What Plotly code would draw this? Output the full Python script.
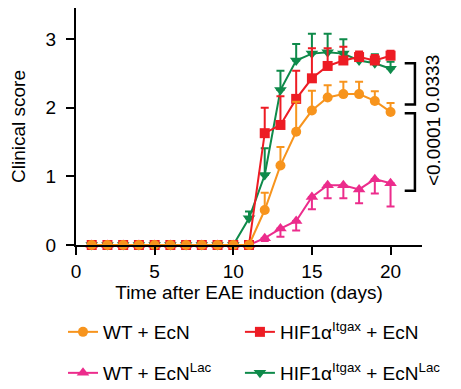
import plotly.graph_objects as go

days = list(range(1, 21))

wt_ecn = [0]*11 + [0.51, 1.16, 1.65, 1.96, 2.15, 2.20, 2.20, 2.10, 1.94]
wt_ecn_err = [0]*11 + [0.25, 0.27, 0.44, 0.29, 0.18, 0.18, 0.18, 0.14, 0.13]

hif_ecn = [0]*11 + [1.63, 1.75, 2.13, 2.43, 2.61, 2.69, 2.74, 2.69, 2.76]
hif_ecn_err = [0]*11 + [0.37, 0.42, 0.41, 0.44, 0.26, 0.20, 0.08, 0.08, 0.07]

wt_lac = [0]*11 + [0.10, 0.24, 0.35, 0.70, 0.87, 0.87, 0.81, 0.96, 0.90]
wt_lac_err = [0]*11 + [0.04, 0.12, 0.14, 0.18, 0.19, 0.19, 0.20, 0.21, 0.34]

hif_lac = [0]*10 + [0.39, 1.02, 2.26, 2.69, 2.79, 2.81, 2.79, 2.69, 2.65, 2.57]
hif_lac_err = [0]*10 + [0.10, 0.39, 0.28, 0.24, 0.29, 0.27, 0.21, 0.10, 0.13, 0.10]

x_ticks = [0, 5, 10, 15, 20]
y_ticks = [0, 1, 2, 3]

C_OR = "#F7941D"
C_RED = "#ED1C24"
C_PINK = "#EC2C8C"
C_GREEN = "#0E8A4A"

FONT = "Liberation Sans, Arial, Helvetica, sans-serif"

fig = go.Figure()

def add(y, err, name, color, symbol, size, legend, minus=False):
    zeros = [0]*len(err)
    eb = dict(type="data", symmetric=False, color=color, thickness=2, width=4,
              array=zeros if minus else err, arrayminus=err if minus else zeros)
    fig.add_trace(go.Scatter(
        x=days, y=y, mode="lines+markers", name=name,
        line=dict(color=color, width=2),
        marker=dict(color=color, symbol=symbol, size=size, line=dict(width=0)),
        error_y=eb, cliponaxis=False, legend=legend, showlegend=True))

add(hif_lac, hif_lac_err, "HIF1α<sup>Itgax</sup> + EcN<sup>Lac</sup>", C_GREEN, "triangle-down", 11, "legend4")
add(wt_lac, wt_lac_err, "WT + EcN<sup>Lac</sup>", C_PINK, "triangle-up", 11, "legend3", minus=True)
add(hif_ecn, hif_ecn_err, "HIF1α<sup>Itgax</sup> + EcN", C_RED, "square", 10, "legend2")
add(wt_ecn, wt_ecn_err, "WT + EcN", C_OR, "circle", 10, "legend")

# significance brackets
brackets = [(2.65, 2.05, "0.0333"), (1.92, 0.79, "<0.0001")]
for top, bot, lab in brackets:
    fig.add_shape(type="path", xref="x", yref="y",
                  path=f"M 20.9 {top} L 21.55 {top} L 21.55 {bot} L 20.9 {bot}",
                  line=dict(color="black", width=2.5))
    fig.add_annotation(x=1.032, y=(top + bot) / 2, xref="paper", yref="y",
                       xanchor="center", yanchor="middle",
                       text=lab, textangle=-90, showarrow=False,
                       font=dict(size=19, color="black", family=FONT))

axis_common = dict(showline=True, linecolor="black", linewidth=2,
                   ticks="outside", ticklen=8, tickwidth=2, tickcolor="black",
                   showgrid=False, zeroline=False, automargin=False,
                   tickfont=dict(size=19, color="black", family=FONT))

fig.update_xaxes(range=[0, 22], tickvals=x_ticks, **axis_common,
                 title=dict(text="Time after EAE induction (days)",
                            font=dict(size=19, color="black", family=FONT), standoff=4))
fig.update_yaxes(range=[0, 3.455], tickvals=y_ticks, **axis_common,
                 ticklabelstandoff=6,
                 title=dict(text="Clinical score",
                            font=dict(size=19, color="black", family=FONT), standoff=22))

leg = dict(orientation="h", xanchor="left", yanchor="middle",
           xref="container", yref="container", bgcolor="rgba(0,0,0,0)",
           font=dict(size=19, color="black", family=FONT), itemwidth=30)

fig.update_layout(
    width=453, height=381,
    margin=dict(l=68, r=39, t=0, b=144),
    plot_bgcolor="white", paper_bgcolor="white",
    font=dict(family=FONT, color="black"),
    showlegend=True,
    legend=dict(leg, x=0.1214, y=0.1496),
    legend2=dict(leg, x=0.512, y=0.1496),
    legend3=dict(leg, x=0.1214, y=0.042),
    legend4=dict(leg, x=0.512, y=0.042),
)

fig.write_html("out.html")
